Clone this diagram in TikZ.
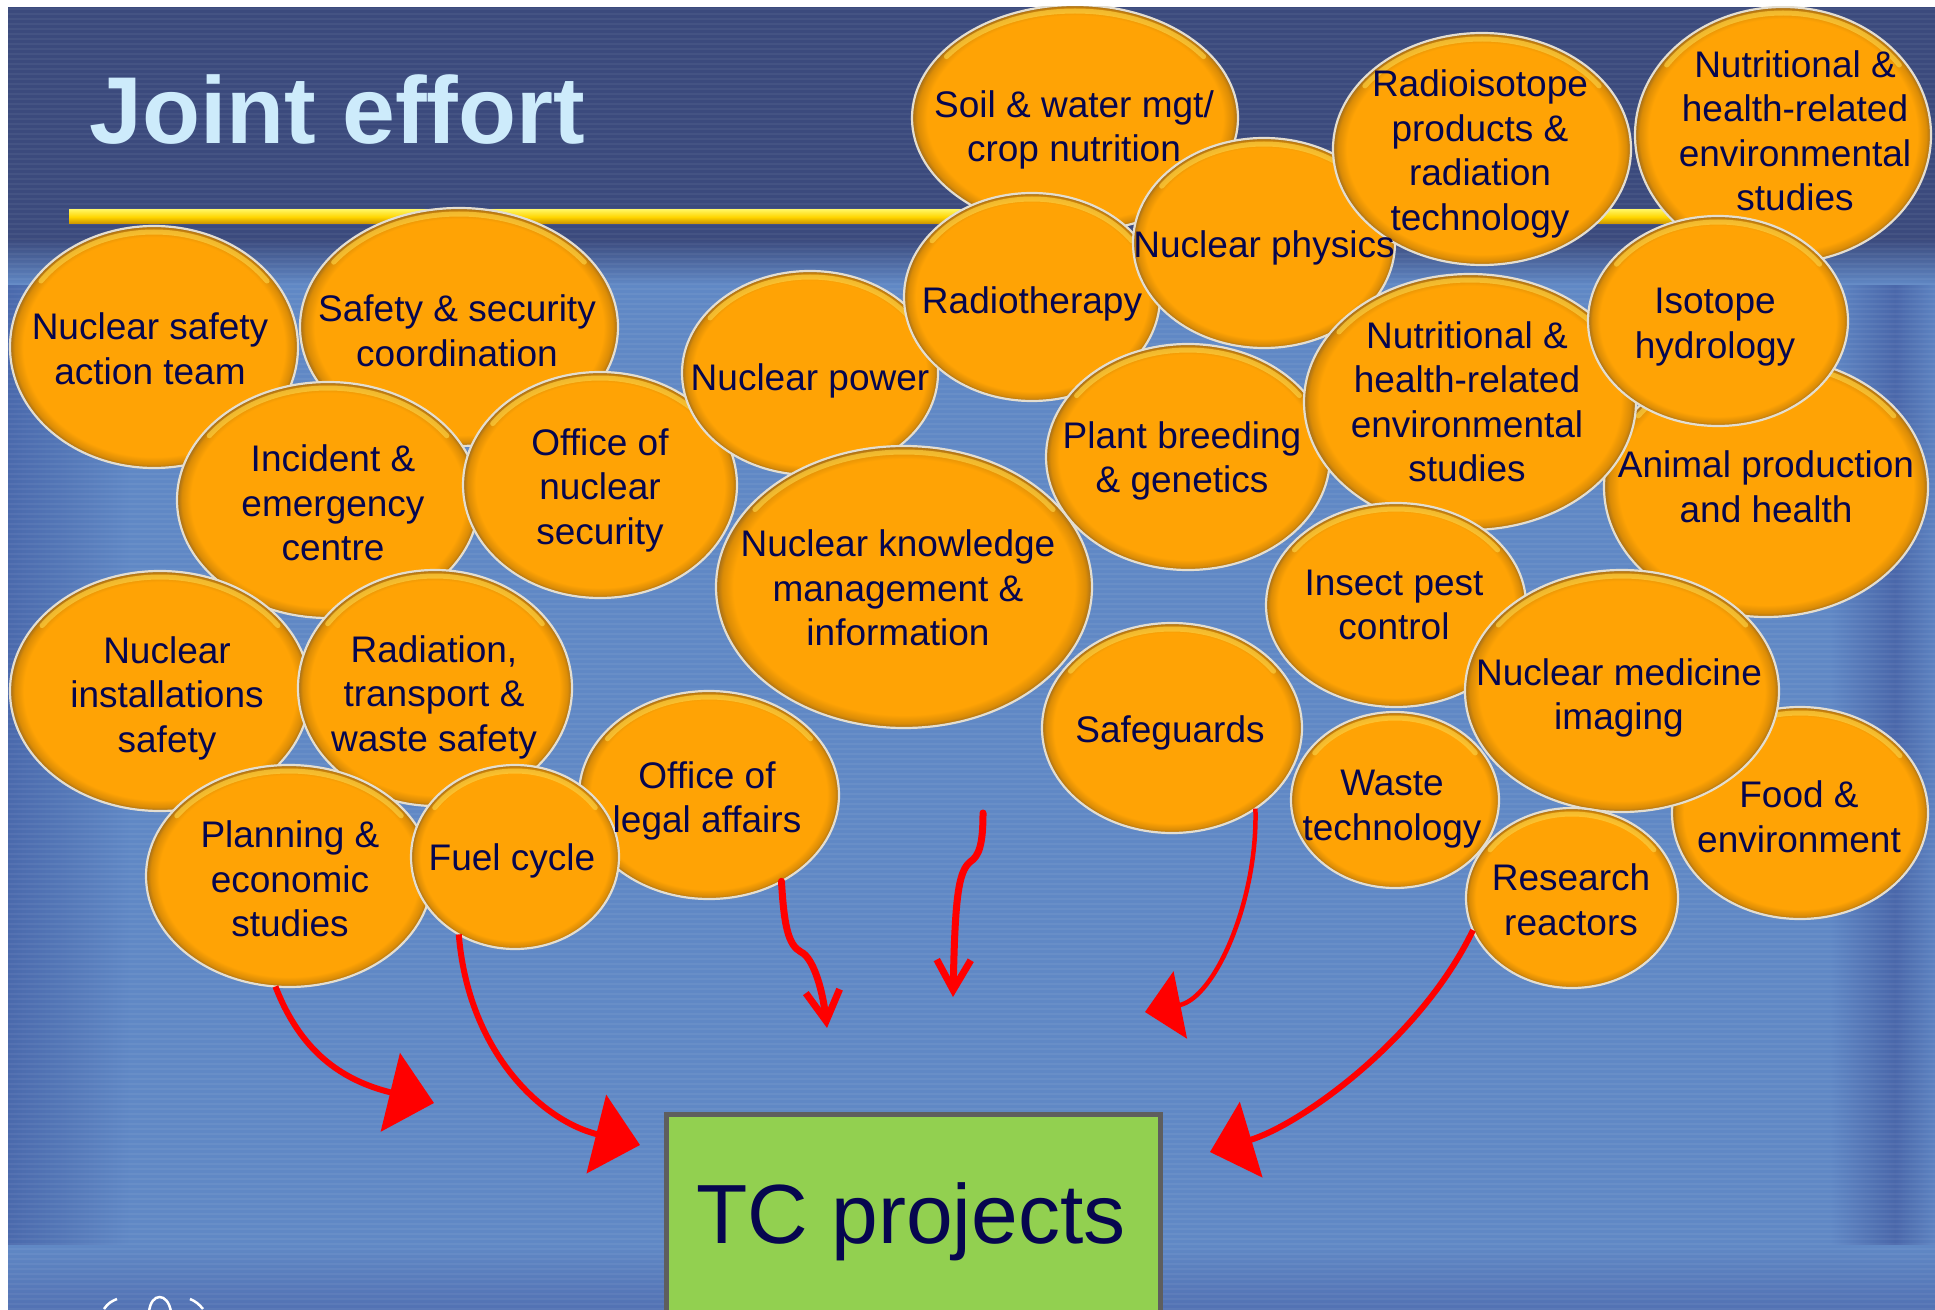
\documentclass[tikz,border=0pt]{standalone}
\usepackage{fontspec}
\setmainfont{Liberation Sans}
\usetikzlibrary{arrows.meta,shapes.geometric}

\definecolor{navytop}{HTML}{3B4A7D}
\definecolor{slideblue}{HTML}{6088C5}
\definecolor{leftdark}{HTML}{4A69AC}
\definecolor{rightdark}{HTML}{4A67AA}
\definecolor{bottomdark}{HTML}{5271B3}
\definecolor{barTop}{HTML}{FFF35A}
\definecolor{barMid}{HTML}{FFD500}
\definecolor{barBot}{HTML}{C99000}
\definecolor{titleblue}{HTML}{CDEBFB}
\definecolor{orbA}{HTML}{FFA305}
\definecolor{orbB}{HTML}{DB8C06}
\definecolor{orbC}{HTML}{A06C1C}
\definecolor{orbRim}{HTML}{E4DED0}
\definecolor{orbHi}{HTML}{FFD84A}
\definecolor{inknavy}{HTML}{06064F}
\definecolor{arrowred}{HTML}{FF0000}
\definecolor{tcgreen}{HTML}{92D050}
\definecolor{tcgray}{HTML}{5E5E5E}

\pgfdeclareradialshading{orbshade}{\pgfpointorigin}{color(0bp)=(orbA); color(22.7bp)=(orbA); color(24.2bp)=(orbB); color(25bp)=(orbC); color(50bp)=(orbC)}

\tikzset{
  orb/.style 2 args={ellipse, inner sep=0pt, outer sep=0pt, minimum width=#1, minimum height=#2, shade, shading=orbshade, draw=orbRim, line width=2.2bp},
  orbtext/.style={align=center, inner sep=0pt, text=inknavy, font=\fontsize{37bp}{44.5bp}\selectfont},
  orbglow/.style={draw=orbHi, line width=5bp, opacity=0.6, line cap=round},
  link/.style={draw=arrowred, line width=6bp},
  barb/.style={draw=arrowred, line width=7bp, line cap=round, line join=round},
}

\newcommand\orbnode[5]{%
  \node[orb={#4*2bp}{#5*2bp}] (#1) at (#2,#3) {};
  \draw[orbglow] plot[domain=215:325, samples=25, smooth] ({#2+(#4-6)*cos(\x)}, {#3+(#5-6)*sin(\x)});
}

\begin{document}
\begin{tikzpicture}[x=1bp, y=-1bp]
\useasboundingbox (0,0) rectangle (1935,1310);
\fill[white] (0,0) rectangle (1935,1310);
\begin{scope}
\clip (8,7) rectangle (1935,1310);
% background
\fill[slideblue] (8,7) rectangle (1935,1310);
\shade[left color=leftdark, right color=slideblue] (8,240) rectangle (130,1310);
\shade[left color=slideblue, right color=rightdark] (1830,240) rectangle (1895,1310);
\shade[left color=rightdark, right color=slideblue!85!rightdark] (1895,240) rectangle (1935,1310);
\shade[top color=slideblue, bottom color=bottomdark] (8,1245) rectangle (1935,1310);
\fill[navytop] (8,7) rectangle (1935,240);
\shade[top color=navytop, bottom color=slideblue] (8,239) rectangle (1935,285);
\foreach \yy in {9,14,...,1309} \draw[white, opacity=0.05, line width=1.6bp] (8,\yy) -- (1935,\yy);
% yellow rule
\shade[top color=barTop, bottom color=barBot, middle color=barMid] (69,210) rectangle (1680,224);
% title
\node[anchor=base west, inner sep=0pt, text=titleblue, font=\fontsize{95bp}{100bp}\selectfont\bfseries] (title) at (89,144) {Joint effort};

% orbs
\orbnode{nsat}{154}{347}{144}{121}
\orbnode{ssc}{459}{327}{159}{119}
\orbnode{iec}{328}{500}{151}{118}
\orbnode{ons}{600}{485}{137}{113}
\orbnode{npow}{810}{373}{128}{102}
\orbnode{nis}{160}{691}{150}{120}
\orbnode{rtw}{435}{688}{137}{118}
\orbnode{ola}{709}{795}{130}{104}
\orbnode{planning}{289}{876}{143}{111}
\orbnode{fuel}{515}{857}{104}{92}
\orbnode{soil}{1075}{118}{163}{113}
\orbnode{radio}{1032}{297}{128}{104}
\orbnode{nphys}{1264}{243}{131}{105}
\orbnode{risot}{1482}{149}{149}{116}
\orbnode{nutA}{1783}{135}{148}{128}
\orbnode{nkm}{904}{587}{188}{141}
\orbnode{plant}{1188}{457}{142}{113}
\orbnode{animal}{1766}{487}{162}{130}
\orbnode{nutB}{1470}{402}{166}{128}
\orbnode{isohyd}{1718}{321}{130}{105}
\orbnode{insect}{1396}{605}{130}{102}
\orbnode{safeg}{1172}{728}{130}{105}
\orbnode{food}{1800}{813}{128}{106}
\orbnode{nmed}{1622}{691}{157}{121}
\orbnode{waste}{1395}{800}{104}{88}
\orbnode{research}{1572}{898}{106}{90}

% texts
\node[orbtext] (nsat-t) at (150,349) {Nuclear safety\\action team};
\node[orbtext] (ssc-t) at (457,331) {Safety \& security\\coordination};
\node[orbtext] (iec-t) at (333,503) {Incident \&\\emergency\\centre};
\node[orbtext] (ons-t) at (600,490) {Office of\\nuclear\\security};
\node[orbtext] (npow-t) at (810,381) {Nuclear power};
\node[orbtext] (nis-t) at (167,698) {Nuclear\\installations\\safety};
\node[orbtext] (rtw-t) at (434,697) {Radiation,\\transport \&\\waste safety};
\node[orbtext] (ola-t) at (707,801) {Office of\\legal affairs};
\node[orbtext] (planning-t) at (290,879) {Planning \&\\economic\\studies};
\node[orbtext] (fuel-t) at (512,861) {Fuel cycle};
\node[orbtext] (soil-t) at (1074,130) {Soil \& water mgt/\\crop nutrition};
\node[orbtext] (radio-t) at (1032,304) {Radiotherapy};
\node[orbtext] (nphys-t) at (1264,248) {Nuclear physics};
\node[orbtext] (risot-t) at (1480,154) {Radioisotope\\products \&\\radiation\\technology};
\node[orbtext] (nutA-t) at (1795,131) {Nutritional \&\\health-related\\environmental\\studies};
\node[orbtext] (nkm-t) at (898,588) {Nuclear knowledge\\management \&\\information};
\node[orbtext] (plant-t) at (1182,461) {Plant breeding\\\& genetics};
\node[orbtext] (animal-t) at (1766,487) {Animal production\\and health};
\node[orbtext] (nutB-t) at (1467,402) {Nutritional \&\\health-related\\environmental\\studies};
\node[orbtext] (isohyd-t) at (1715,327) {Isotope\\hydrology};
\node[orbtext] (insect-t) at (1394,605) {Insect pest\\control};
\node[orbtext] (safeg-t) at (1170,733) {Safeguards};
\node[orbtext] (food-t) at (1799,817) {Food \&\\environment};
\node[orbtext] (nmed-t) at (1619,698) {Nuclear medicine\\imaging};
\node[orbtext] (waste-t) at (1392,809) {Waste\\technology};
\node[orbtext] (research-t) at (1571,900) {Research\\reactors};

% arrow end points
\coordinate (tipA) at (434,1103);
\coordinate (tipB) at (640,1145);
\coordinate (tipC) at (827,1028);
\coordinate (dStart) at (983,813);
\coordinate (tipD) at (953,997);
\coordinate (tipE) at (1145,1012);
\coordinate (tipF) at (1210,1152);

% arrows
\draw[link, -{Triangle[length=45bp,width=80bp]}] (planning.263) .. controls (300,1050) and (340,1080) .. (tipA);
\draw[link, -{Triangle[length=45bp,width=80bp]}] (fuel.234) .. controls (468,1050) and (540,1120) .. (tipB);
\draw[barb, -{Straight Barb[length=30bp,width=34bp]}] (ola.310) .. controls (784,925) and (788,945) .. (801,952) .. controls (812,957) and (822,985) .. (tipC);
\draw[barb, -{Straight Barb[length=30bp,width=34bp]}] (dStart) .. controls (983,845) and (979,856) .. (970,862) .. controls (958,872) and (955,900) .. (tipD);
\draw[link, line width=4.5bp, -{Triangle[length=36bp,width=68bp]}] (safeg.316) .. controls (1258,900) and (1215,998) .. (tipE);
\draw[link, -{Triangle[length=43bp,width=78bp]}] (research.198) .. controls (1420,1040) and (1300,1125) .. (tipF);

% TC projects box
\node[draw=tcgray, fill=tcgreen, line width=5bp, anchor=north west, minimum width=494bp, minimum height=260bp, inner sep=0pt] (tc) at (664,1112) {};
\node[anchor=base, inner sep=0pt, text=inknavy, font=\fontsize{84bp}{90bp}\selectfont] (tc-t) at (911,1243) {TC projects};

% logo fragment
\draw[white, line width=2.5bp] (149,1312) .. controls (151,1292) and (168,1292) .. (171,1312);
\draw[white, line width=2.5bp] (104,1309) .. controls (108,1303) and (112,1301) .. (117,1299);
\draw[white, line width=2.5bp] (190,1299) .. controls (195,1301) and (199,1304) .. (203,1309);
\end{scope}
\end{tikzpicture}
\end{document}
